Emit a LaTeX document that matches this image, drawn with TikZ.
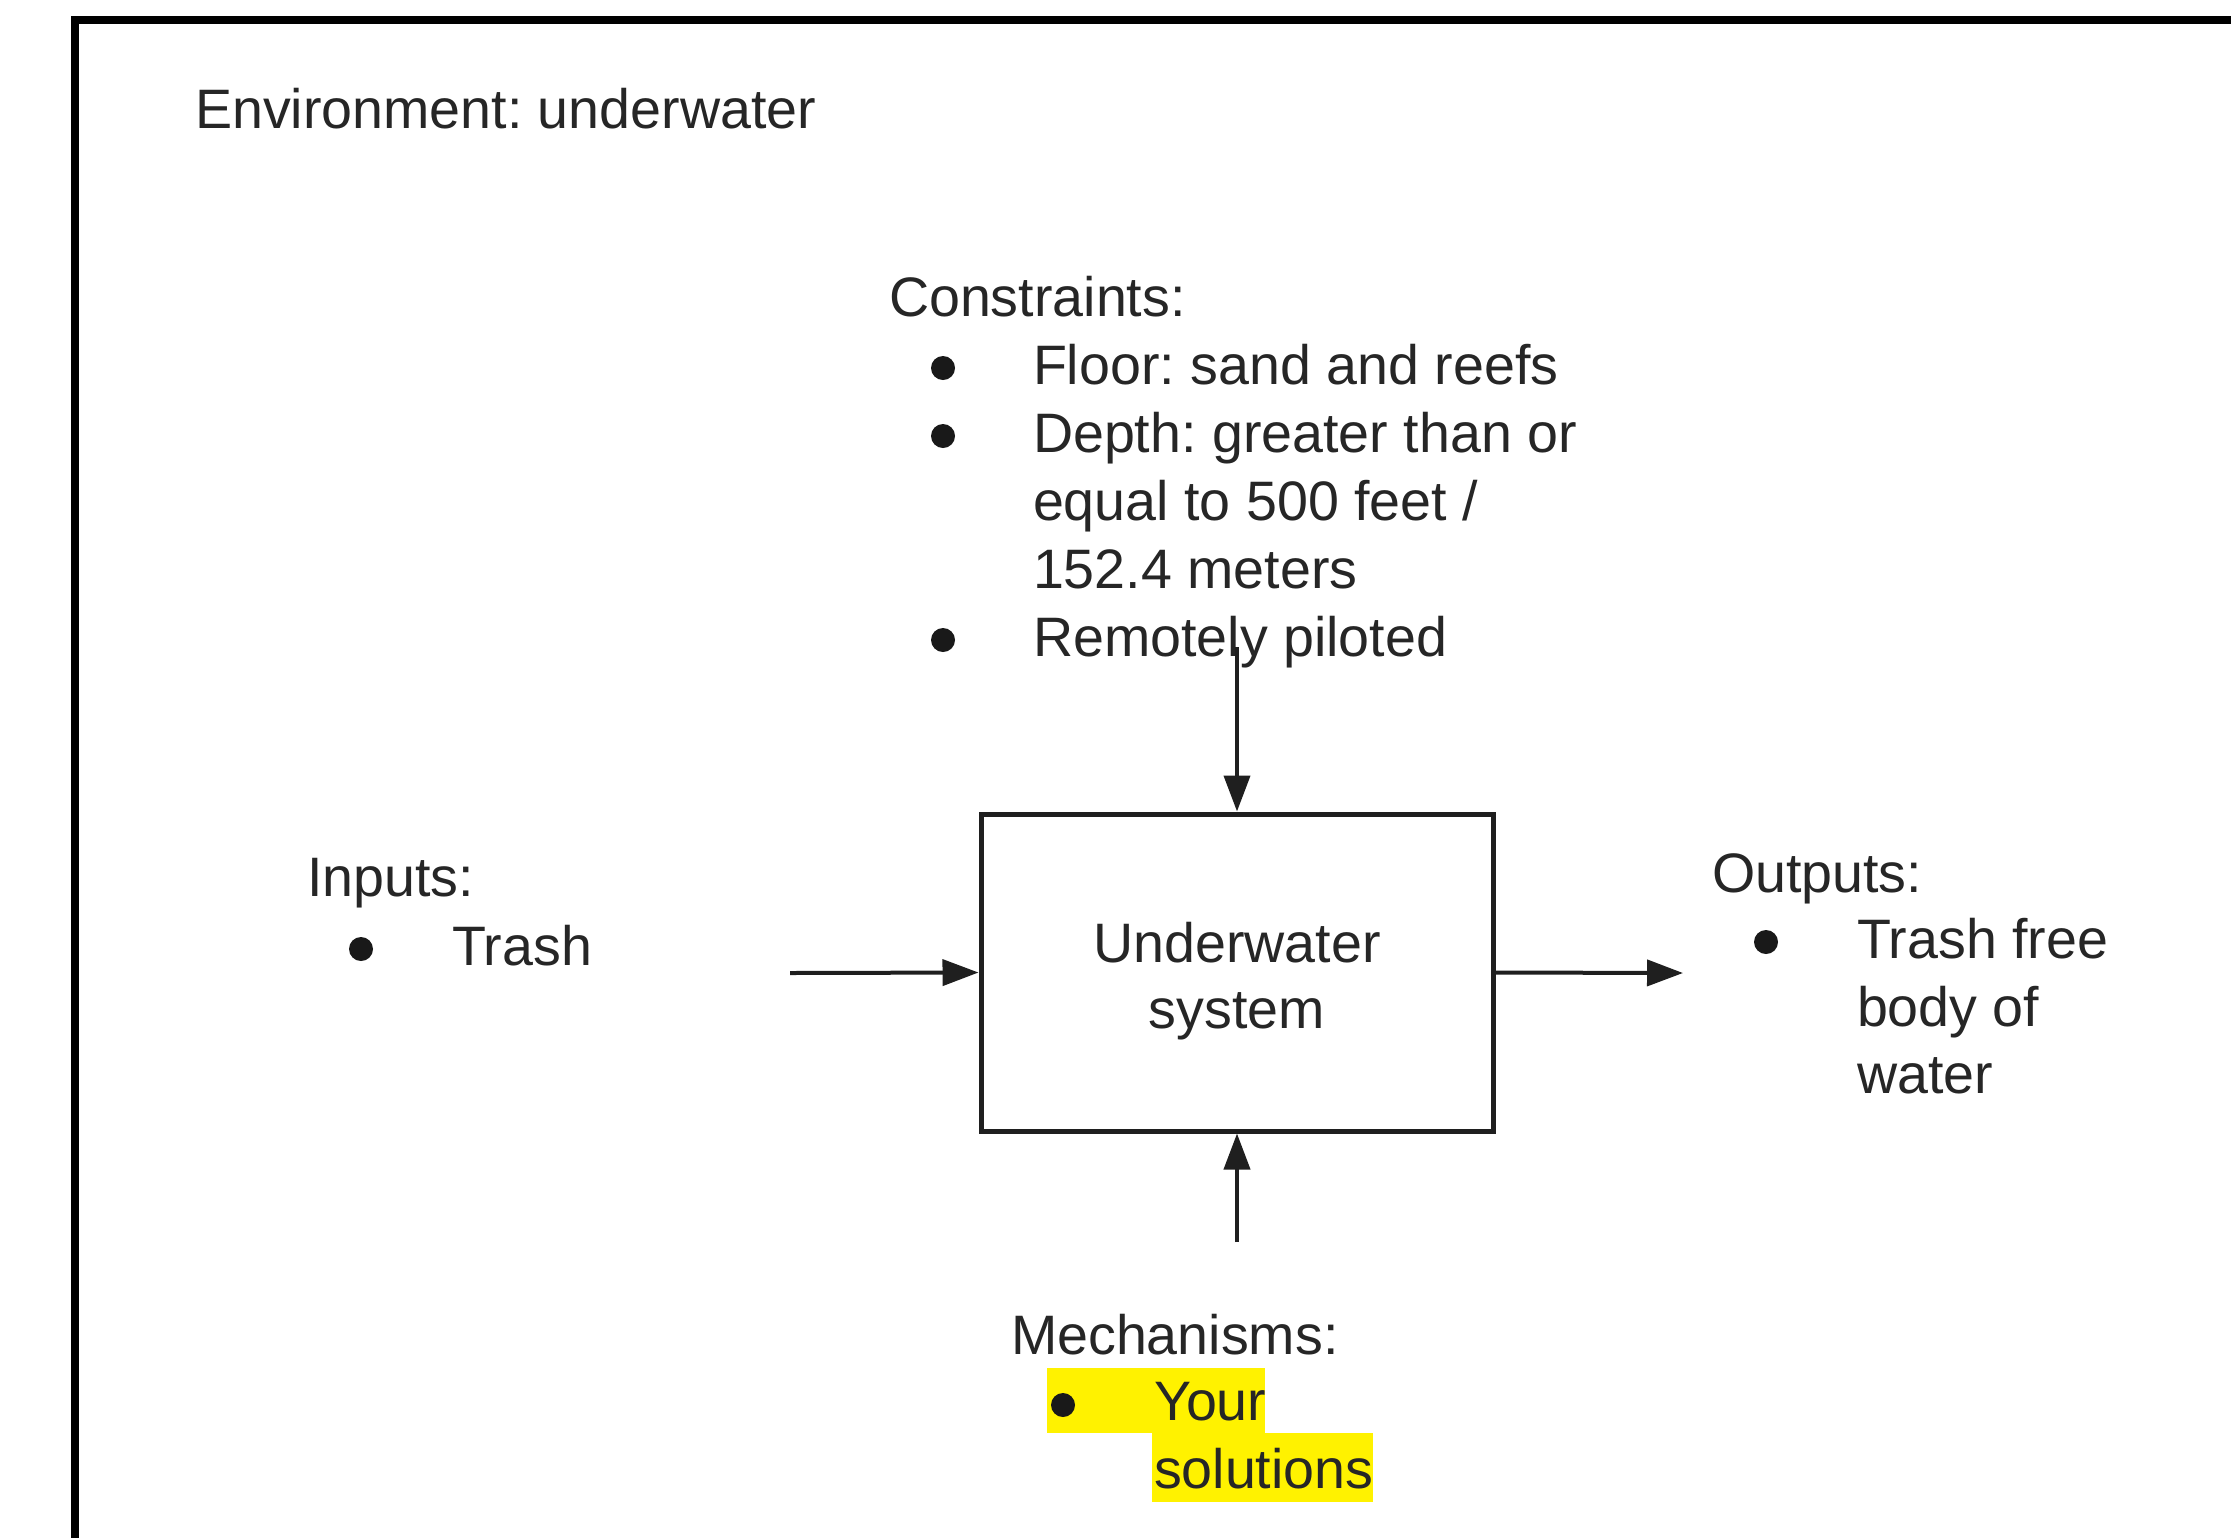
\documentclass[tikz,border=0pt]{standalone}
\usepackage{fontspec}
\setmainfont{Liberation Sans}
\usetikzlibrary{arrows.meta}
\frenchspacing
\begin{document}
\begin{tikzpicture}[x=0.5pt,y=-0.5pt,
  txt/.style={anchor=base west, inner sep=0pt, outer sep=0pt, text=black!85,
    font=\fontsize{27.8pt}{34pt}\selectfont},
  ctxt/.style={txt, anchor=base},
  bul/.style={fill=black!90},
  arr/.style={line width=2pt, draw=black!88, -{Triangle[length=18pt,width=13pt]}},
  sysbox/.style={draw=black!88, line width=2.5pt, minimum width=256pt, minimum height=158.5pt, inner sep=0pt}
]
\useasboundingbox (0,0) rectangle (2231,1537);
\fill[white] (0,0) rectangle (2231,1537);
\begin{scope}
\clip (0,0) rectangle (2231,1537);
\draw[line width=4pt, black] (75,20) rectangle (2400,1700);
\end{scope}

% highlight
\fill[yellow] (1047,1368) rectangle (1265,1433);
\fill[yellow] (1152,1433) rectangle (1373,1502);

% environment
\node[txt] (env) at (195,128) {Environment: underwater};

% constraints
\node[txt] (cons) at (889,316) {Constraints:};
\fill[bul] (943,368) circle (12);
\node[txt] (c1) at (1033,384) {Floor: sand and reefs};
\fill[bul] (943,436) circle (12);
\node[txt] (c2) at (1033,452) {Depth: greater than or};
\node[txt] (c3) at (1033,520) {equal to 500 feet /};
\node[txt] (c4) at (1033,588) {152.4 meters};
\fill[bul] (943,640) circle (12);
\node[txt] (c5) at (1033,656) {Remotely piloted};

% system
\node[sysbox] (sys) at (1237,972.5) {};
\node[ctxt] (s1) at (1237,962) {Underwater};
\node[ctxt] (s2) at (1237,1028) {system};

% inputs
\node[txt] (inp) at (307,896) {Inputs:};
\fill[bul] (361,949) circle (12);
\node[txt] (i1) at (452,965) {Trash};

% outputs
\node[txt] (outp) at (1712,892) {Outputs:};
\fill[bul] (1766,942) circle (12);
\node[txt] (o1) at (1857,958) {Trash free};
\node[txt] (o2) at (1857,1026) {body of};
\node[txt] (o3) at (1857,1093) {water};

% mechanisms
\node[txt] (mech) at (1011,1354) {Mechanisms:};
\fill[bul] (1063,1405) circle (12);
\node[txt] (m1) at (1154,1420) {Your};
\node[txt] (m2) at (1154,1488) {solutions};

% connectors
\coordinate (ctop) at (1237,647);
\coordinate (inL) at (790,973);
\coordinate (outR) at (1683,973);
\coordinate (mbot) at (1237,1242);
\draw[arr] (ctop) -- (sys.north);
\draw[arr] (inL) -- (sys.west);
\draw[arr] (sys.east) -- (outR);
\draw[arr] (mbot) -- (sys.south);
\end{tikzpicture}
\end{document}
